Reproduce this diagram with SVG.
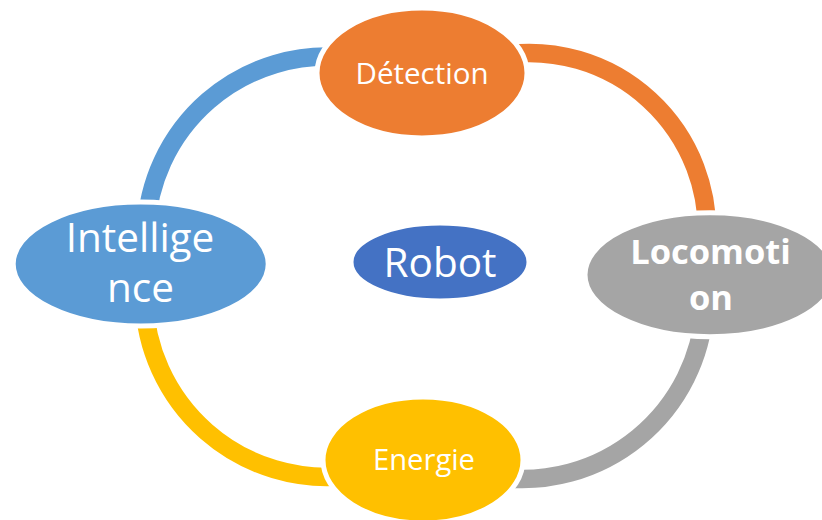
<svg xmlns="http://www.w3.org/2000/svg" width="822" height="520" viewBox="0 0 822 520">
  <style>
    .arc { fill: none; stroke-width: 18.5; stroke-linecap: butt; }
    .node { stroke: #FFFFFF; stroke-width: 5; }
    .label { fill: #FFFFFF; font-family: "Open Sans", "Liberation Sans", sans-serif; text-anchor: middle; }
  </style>
  <rect width="822" height="520" fill="#FFFFFF"/>

  <!-- ring segments between the outer nodes -->
  <g id="connectors">
    <path class="arc" stroke="#5B9BD5" d="M 345 57.4 A 181 181 0 0 0 146 230"/>
    <path class="arc" stroke="#ED7D31" d="M 505 54.6 A 178 178 0 0 1 706.8 240"/>
    <path class="arc" stroke="#A5A5A5" d="M 704.5 310 A 183 183 0 0 1 500 477.7"/>
    <path class="arc" stroke="#FFC000" d="M 144.1 300 A 183 183 0 0 0 345 476.1"/>
  </g>

  <g id="robot">
    <ellipse class="node" cx="440" cy="262" rx="89" ry="39" fill="#4472C4"/>
    <text class="label" x="440" y="277" font-size="40.5">Robot</text>
  </g>

  <g id="detection">
    <ellipse class="node" cx="422" cy="73" rx="105" ry="65" fill="#ED7D31"/>
    <text class="label" x="422" y="83.5" font-size="29.5">Détection</text>
  </g>

  <g id="locomotion">
    <ellipse class="node" cx="710" cy="274.7" rx="125" ry="62" fill="#A5A5A5"/>
    <text class="label" x="710.5" y="264" font-size="34.5" font-weight="bold">Locomoti</text>
    <text class="label" x="711" y="310" font-size="34.5" font-weight="bold">on</text>
  </g>

  <g id="energie">
    <ellipse class="node" cx="423" cy="460" rx="100" ry="63" fill="#FFC000"/>
    <text class="label" x="424" y="470" font-size="29.2">Energie</text>
  </g>

  <g id="intelligence">
    <ellipse class="node" cx="140.7" cy="264" rx="127.5" ry="62" fill="#5B9BD5"/>
    <text class="label" x="140" y="251.7" font-size="40.5">Intellige</text>
    <text class="label" x="140.5" y="301.7" font-size="40.5">nce</text>
  </g>
</svg>
